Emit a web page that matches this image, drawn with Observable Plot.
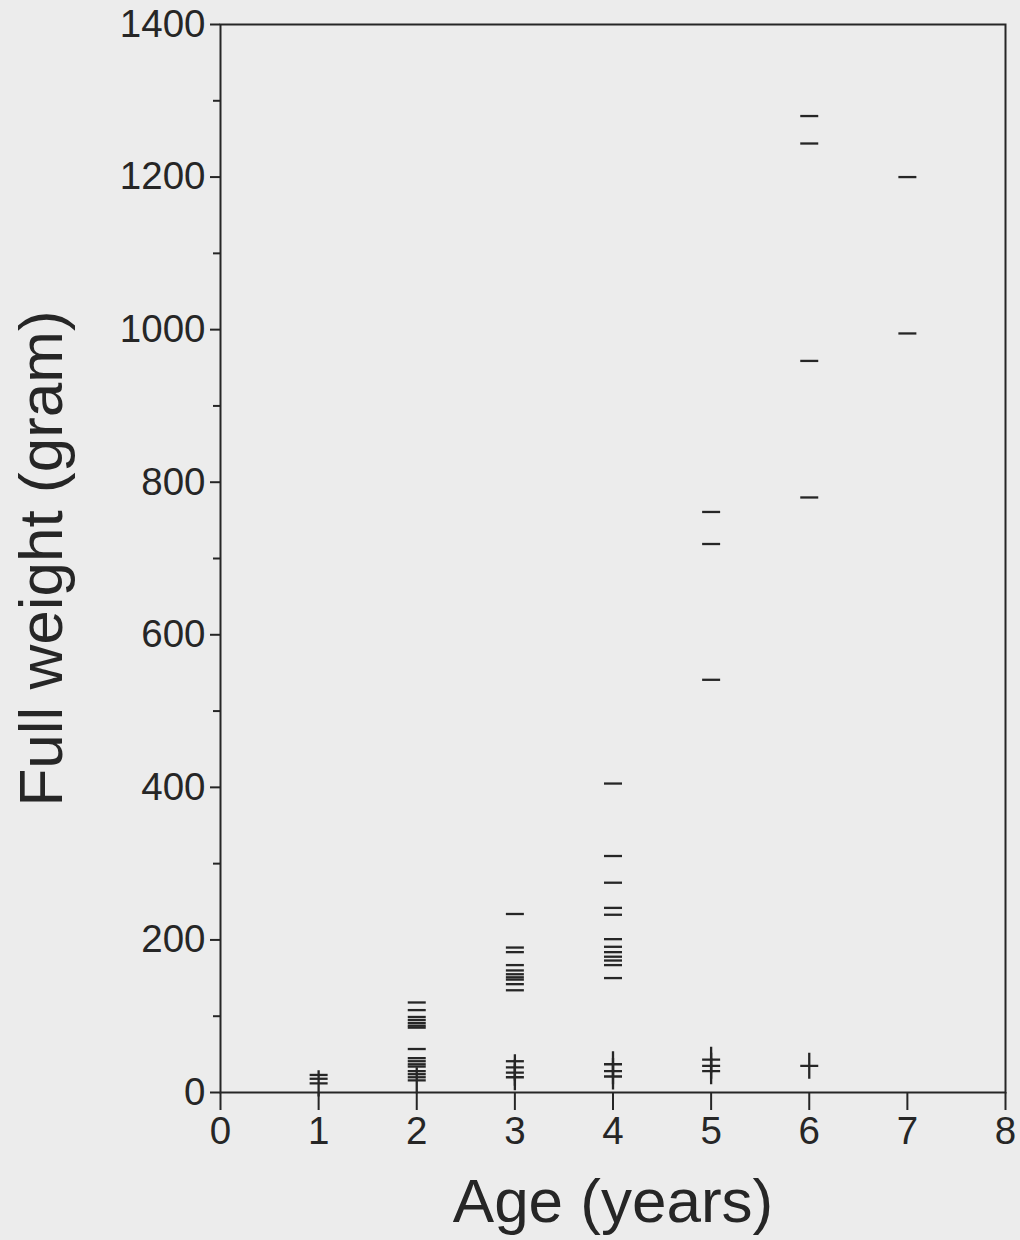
<!DOCTYPE html>
<html>
<head>
<meta charset="utf-8">
<script src="https://cdn.jsdelivr.net/npm/d3@7"></script>
<script src="https://cdn.jsdelivr.net/npm/@observablehq/plot@0.6"></script>
<style>
  html, body { margin: 0; padding: 0; background: #ececec; }
</style>
</head>
<body>
<div id="chart"></div>
<script>
// Age groups (years)
const ageGroups = [1, 2, 3, 4, 5, 6, 7];

// Full weight (gram) shown with a dash marker, one list per age group
const dashWeights = [
  [23, 18],
  [118, 108, 99, 95, 91, 87.5, 85, 57, 45, 41, 37, 34, 28, 24, 20],
  [234, 190, 184, 167, 160, 155, 151, 148, 142, 134, 41],
  [405, 310, 275, 242, 233, 201, 191, 184, 178, 173, 167, 150],
  [761, 719, 541],
  [1280, 1244, 959, 780],
  [1200, 995]
];

// Full weight (gram) shown with a plus marker, one list per age group
const plusWeights = [
  [12],
  [16],
  [33, 26, 20],
  [37, 28, 21],
  [43, 35, 28],
  [35],
  []
];

// Axis ticks
const xTicks = [0, 1, 2, 3, 4, 5, 6, 7, 8];
const yTicks = [0, 200, 400, 600, 800, 1000, 1200, 1400];
const yMinorTicks = [100, 300, 500, 700, 900, 1100, 1300];

const xTitle = "Age (years)";
const yTitle = "Full weight (gram)";

// Build tables for the library
const dashData = ageGroups.flatMap((age, i) => dashWeights[i].map(w => ({age, weight: w})));
const plusData = ageGroups.flatMap((age, i) => plusWeights[i].map(w => ({age, weight: w})));

const dashSymbol = {
  draw(context, size) {
    const r = Math.sqrt(size / Math.PI);
    context.moveTo(-r, 0);
    context.lineTo(r, 0);
  }
};
const plusSymbol = {
  draw(context, size) {
    const r = Math.sqrt(size / Math.PI);
    context.moveTo(-r, 0);
    context.lineTo(r, 0);
    context.moveTo(0, -r * 1.45);
    context.lineTo(0, r * 1.45);
  }
};

const ink = "#262626";

const chart = Plot.plot({
  width: 1020,
  height: 1240,
  marginLeft: 220,
  marginRight: 15,
  marginTop: 24,
  marginBottom: 148,
  style: {
    background: "#ececec",
    fontFamily: "'Liberation Sans', Arial, Helvetica, sans-serif",
    color: ink
  },
  x: {domain: [0, 8]},
  y: {domain: [0, 1400]},
  marks: [
    Plot.axisY({ticks: yTicks, tickSize: 10, tickPadding: 5, fontSize: 38.5, strokeWidth: 2, tickFormat: "d", label: null}),
    Plot.axisY({ticks: yMinorTicks, tickSize: 7, text: null, strokeWidth: 2, label: null}),
    Plot.axisX({ticks: xTicks, tickSize: 18, tickPadding: 6, fontSize: 38.5, strokeWidth: 2, tickFormat: "d", label: null}),
    Plot.frame({stroke: ink, strokeWidth: 2}),
    Plot.dot(dashData, {x: "age", y: "weight", symbol: dashSymbol, r: 9, fill: "none", stroke: ink, strokeWidth: 2.3}),
    Plot.dot(plusData, {x: "age", y: "weight", symbol: plusSymbol, r: 9, fill: "none", stroke: ink, strokeWidth: 2.3}),
    Plot.text([yTitle], {text: d => d, frameAnchor: "left", textAnchor: "middle", lineAnchor: "middle", rotate: -90, dx: -178, fontSize: 62, fill: ink}),
    Plot.text([xTitle], {text: d => d, frameAnchor: "bottom", textAnchor: "middle", lineAnchor: "middle", dy: 110, fontSize: 62, fill: ink})
  ]
});

document.getElementById("chart").appendChild(chart);
</script>
</body>
</html>
